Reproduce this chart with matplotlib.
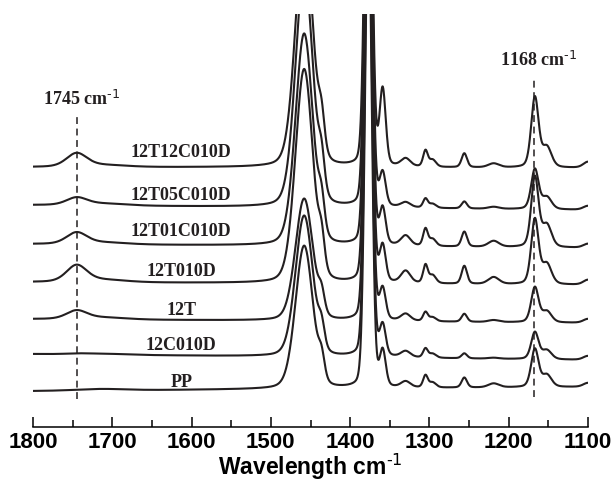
import numpy as np
import matplotlib
matplotlib.use('Agg')
import matplotlib.pyplot as plt
from matplotlib.ticker import MultipleLocator

plt.rcParams['mathtext.default'] = 'regular'

# samples, top to bottom
samples = ['12T12C010D', '12T05C010D', '12T01C010D', '12T010D', '12T', '12C010D', 'PP']
offsets = [2.60, 2.22, 1.83, 1.45, 1.08, 0.73, 0.36]      # baseline at 1800 cm-1 (a.u.)
drift = [-0.01, -0.05, -0.04, -0.03, -0.04, -0.06, 0.04]   # baseline change 1800 -> 1100
label_y = [2.71, 2.28, 1.92, 1.52, 1.13, 0.78, 0.41]

# absorption bands: centre, fwhm, lorentz fraction
band_pos = [1745, 1715, 1458, 1436, 1377, 1359, 1330, 1305, 1296, 1256, 1219, 1167, 1152, 1100]
band_fwhm = [30, 70, 26, 9, 10, 9, 14, 7, 10, 8, 16, 11, 14, 14]
band_eta = [0.3, 0.0, 0.2, 0.2, 0.15, 0.2, 0.3, 0.3, 0.3, 0.3, 0.3, 0.3, 0.3, 0.3]

# band heights per sample (a.u.), rows follow band_pos
h1745 = [0.13, 0.07, 0.11, 0.16, 0.08, 0.005, 0.0]
h1715 = [0.02, 0.02, 0.02, 0.025, 0.02, 0.01, 0.015]
h1458 = [2.35, 2.35, 2.12, 2.14, 1.22, 1.41, 1.43]
h1436 = [0.30, 0.30, 0.28, 0.28, 0.18, 0.20, 0.20]
h1377 = [4.80, 4.80, 4.80, 4.80, 4.80, 4.80, 4.80]
h1359 = [0.75, 0.32, 0.35, 0.35, 0.30, 0.30, 0.35]
h1330 = [0.08, 0.05, 0.10, 0.12, 0.07, 0.06, 0.06]
h1305 = [0.16, 0.09, 0.17, 0.18, 0.09, 0.09, 0.12]
h1296 = [0.07, 0.04, 0.07, 0.08, 0.04, 0.04, 0.05]
h1256 = [0.14, 0.07, 0.15, 0.18, 0.08, 0.05, 0.10]
h1219 = [0.04, 0.02, 0.06, 0.07, 0.02, 0.01, 0.04]
h1167 = [0.70, 0.40, 0.70, 0.65, 0.35, 0.27, 0.38]
h1152 = [0.20, 0.12, 0.22, 0.20, 0.11, 0.09, 0.12]
h1100 = [0.06, 0.04, 0.04, 0.05, 0.04, 0.04, 0.04]
heights = [h1745, h1715, h1458, h1436, h1377, h1359, h1330, h1305, h1296,
           h1256, h1219, h1167, h1152, h1100]

marks = [1745, 1168]


def band(x, c, fwhm, eta):
    hw = fwhm / 2.0
    lor = 1.0 / (1.0 + ((x - c) / hw) ** 2)
    gau = np.exp(-np.log(2) * ((x - c) / hw) ** 2)
    return eta * lor + (1 - eta) * gau


wn = np.linspace(1800, 1100, 2801)
col = '#231f20'

fig = plt.figure(figsize=(6.12, 4.81), dpi=100)
ax = fig.add_axes([33 / 612, 53 / 481, 555 / 612, 413 / 481])

for i, name in enumerate(samples):
    y = offsets[i] + drift[i] * (1800 - wn) / 700.0
    for j in range(len(band_pos)):
        y = y + heights[j][i] * band(wn, band_pos[j], band_fwhm[j], band_eta[j])
    ax.plot(wn, y, color=col, lw=1.5)
    ax.text(1613, label_y[i], name, ha='center', va='baseline', fontsize=13,
            family='Liberation Serif', fontweight='bold', color=col)

# marker lines
ax.plot([marks[0], marks[0]], [0.28, 3.10], color=col, lw=1.1, dashes=(4.5, 3))
ax.plot([marks[1], marks[1]], [0.30, 3.50], color=col, lw=1.1, dashes=(4.5, 3))
for m, ty in zip(marks, [3.23, 3.62]):
    ax.text(m - 6, ty, '%d cm$^{\\text{-1}}$' % m, ha='center', va='baseline', fontsize=13,
            family='Liberation Serif', fontweight='bold', color=col)

ax.set_xlim(1800, 1100)
ax.set_ylim(0, 4.13)
ax.set_yticks([])
for s in ['left', 'top', 'right']:
    ax.spines[s].set_visible(False)
ax.spines['bottom'].set_linewidth(1.1)
ax.xaxis.set_major_locator(MultipleLocator(100))
ax.xaxis.set_minor_locator(MultipleLocator(50))
ax.tick_params(axis='x', which='major', direction='in', length=7.5, width=1.1, pad=3)
ax.tick_params(axis='x', which='minor', direction='in', length=5, width=1.1)
for lb in ax.get_xticklabels():
    lb.set_family('Liberation Sans')
    lb.set_fontweight('bold')
    lb.set_fontsize(16)
ax.set_xlabel('Wavelength cm$^{\\text{-1}}$', family='Liberation Sans', fontweight='bold',
              fontsize=16.5)
ax.xaxis.label.set_va('baseline')
ax.xaxis.set_label_coords(0.5, -(475 - 428) / 413)

fig.savefig('out.png', dpi=100)
